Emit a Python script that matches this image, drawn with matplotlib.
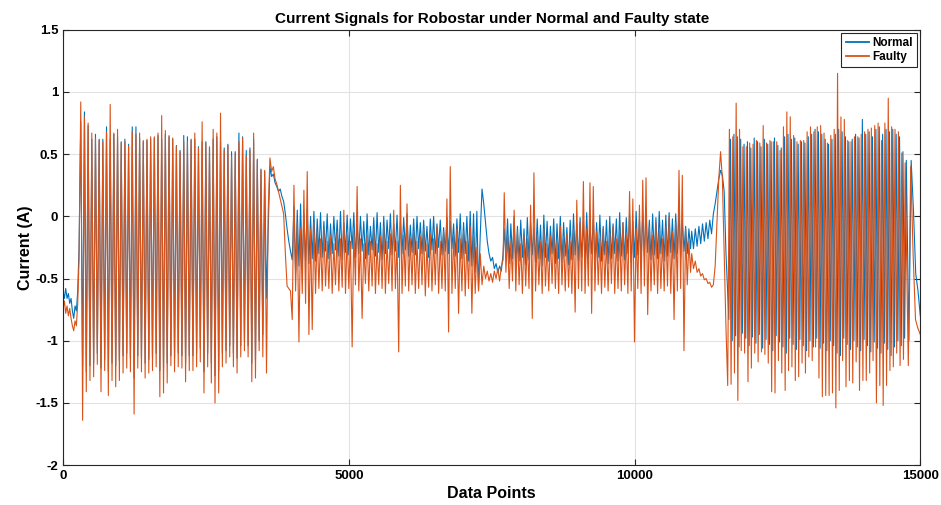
import numpy as np
import matplotlib.pyplot as plt
from matplotlib.ticker import FuncFormatter, MultipleLocator

plt.rcParams['font.family'] = ['Liberation Sans', 'DejaVu Sans']
plt.rcParams['axes.unicode_minus'] = False

# ---- values (data-point ranges and current in A) ----
# segment ranges along the x axis (data points)
PRE = (0, 280)
RUN1 = (310, 3560)
BUMP1 = (3590, 4010)
MID_A = (4040, 7270)
DIP = (7300, 7700)
MID_B = (7720, 10980)
BUMP2 = (11000, 11600)
RUN2_FAULTY = (11630, 14735)
RUN2_NORMAL = (11650, 14755)
END_FAULTY = (14790, 15000)
END_NORMAL = (14800, 15000)

# idle level before the first movement
normal_pre = [-0.60, -0.66, -0.58, -0.66, -0.62, -0.70, -0.66, -0.76, -0.82, -0.72, -0.76, -0.60, -0.25]
faulty_pre = [-0.74, -0.68, -0.78, -0.72, -0.80, -0.74, -0.82, -0.88, -0.92, -0.84, -0.88, -0.70, -0.35]

# first movement: peak / trough of each cycle
faulty_run1_peaks = [0.92, 0.80, 0.75, 0.67, 0.63, 0.61, 0.60, 0.68, 0.90, 0.67, 0.70, 0.59, 0.60, 0.57, 0.68, 0.66, 0.67,
                     0.61, 0.62, 0.64, 0.64, 0.67, 0.81, 0.69, 0.65, 0.63, 0.56, 0.52, 0.60, 0.60, 0.61, 0.67, 0.55, 0.76,
                     0.59, 0.56, 0.70, 0.67, 0.83, 0.53, 0.57, 0.48, 0.51, 0.60, 0.63, 0.49, 0.53, 0.67, 0.45, 0.37, 0.37]
faulty_run1_troughs = [-1.64, -1.41, -1.32, -1.29, -1.19, -1.41, -1.24, -1.44, -1.32, -1.37, -1.32, -1.26, -1.22, -1.25,
                       -1.59, -1.22, -1.25, -1.30, -1.26, -1.24, -1.21, -1.45, -1.42, -1.34, -1.20, -1.25, -1.21, -1.22,
                       -1.33, -1.24, -1.24, -1.21, -1.17, -1.42, -1.21, -1.34, -1.50, -1.42, -1.21, -1.18, -1.13, -1.21,
                       -1.26, -1.13, -1.08, -1.13, -1.33, -1.30, -1.08, -1.13, -1.26]
normal_run1_peaks = [0.76, 0.84, 0.73, 0.62, 0.66, 0.62, 0.62, 0.72, 0.62, 0.66, 0.64, 0.60, 0.62, 0.58, 0.72, 0.72, 0.63,
                     0.60, 0.61, 0.62, 0.63, 0.65, 0.62, 0.66, 0.64, 0.62, 0.57, 0.53, 0.65, 0.64, 0.62, 0.62, 0.56, 0.60,
                     0.60, 0.55, 0.62, 0.64, 0.60, 0.55, 0.58, 0.52, 0.52, 0.67, 0.64, 0.53, 0.55, 0.62, 0.46, 0.38, 0.36]
normal_run1_troughs = [-1.21, -1.25, -1.20, -1.18, -1.10, -1.22, -1.15, -1.25, -1.18, -1.20, -1.16, -1.12, -1.10, -1.14,
                       -1.30, -1.12, -1.14, -1.18, -1.15, -1.13, -1.10, -1.24, -1.22, -1.18, -1.12, -1.13, -1.10, -1.12,
                       -1.18, -1.12, -1.12, -1.10, -1.06, -1.25, -1.10, -1.18, -1.28, -1.24, -1.10, -1.08, -1.04, -1.10,
                       -1.14, -1.04, -1.00, -1.04, -1.18, -1.16, -1.00, -0.95, -0.66]

# overshoot after the first movement
faulty_bump1 = [0.05, 0.47, 0.36, 0.40, 0.30, 0.26, 0.20, 0.14, 0.08, 0.02, -0.30, -0.56, -0.58, -0.60, -0.83]
normal_bump1 = [-0.10, 0.40, 0.32, 0.34, 0.27, 0.24, 0.20, 0.22, 0.16, 0.12, 0.02, -0.10, -0.20, -0.28, -0.35]

# holding phase, first half
faulty_mid_a_peaks = [0.25, -0.05, -0.10, 0.21, 0.36, -0.10, -0.05, -0.12, -0.18, -0.10,
                      -0.20, -0.15, -0.22, -0.12, -0.18, 0.05, -0.15, -0.20, -0.12, 0.24,
                      -0.18, -0.22, -0.15, -0.20, -0.10, -0.22, -0.16, -0.08, -0.20, -0.14,
                      0.05, -0.20, 0.25, -0.15, 0.10, -0.18, -0.12, -0.20, -0.16, -0.10,
                      -0.22, -0.14, -0.18, -0.08, -0.20, -0.12, 0.14, 0.40, -0.15, -0.10,
                      -0.18, -0.12, -0.20, -0.08, -0.15, -0.25]
faulty_mid_a_troughs = [-0.60, -1.01, -0.62, -0.70, -0.95, -0.91, -0.62, -0.58, -0.60, -0.56,
                        -0.58, -0.62, -0.55, -0.60, -0.57, -0.62, -0.58, -1.05, -0.55, -0.60,
                        -0.82, -0.54, -0.60, -0.56, -0.62, -0.55, -0.58, -0.62, -0.54, -0.60,
                        -0.58, -1.09, -0.62, -0.56, -0.60, -0.55, -0.62, -0.58, -0.55, -0.64,
                        -0.57, -0.60, -0.55, -0.62, -0.58, -0.60, -0.93, -0.62, -0.58, -0.78,
                        -0.60, -0.64, -0.58, -0.78, -0.62, -0.60]
normal_mid_a_peaks = [0.08, 0.05, 0.10, 0.02, 0.06, 0.00, 0.04, -0.02, 0.03, -0.04,
                      0.02, -0.06, 0.00, -0.03, 0.04, -0.05, 0.01, -0.02, 0.03, -0.06,
                      0.00, -0.04, 0.02, -0.08, -0.01, 0.03, -0.05, 0.00, -0.03, 0.02,
                      -0.06, 0.01, -0.04, -0.01, 0.02, -0.07, -0.02, 0.00, -0.05, -0.03,
                      -0.08, -0.02, 0.00, -0.06, -0.03, -0.09, -0.01, -0.04, -0.06, -0.02,
                      0.02, -0.05, 0.00, 0.04, 0.02, 0.04]
normal_mid_a_troughs = [-0.45, -0.40, -0.42, -0.36, -0.38, -0.34, -0.36, -0.30, -0.33, -0.28,
                        -0.34, -0.30, -0.27, -0.32, -0.35, -0.29, -0.31, -0.26, -0.33, -0.30,
                        -0.28, -0.34, -0.31, -0.27, -0.32, -0.29, -0.35, -0.30, -0.26, -0.31,
                        -0.28, -0.33, -0.30, -0.27, -0.32, -0.29, -0.31, -0.26, -0.30, -0.28,
                        -0.33, -0.27, -0.30, -0.25, -0.31, -0.28, -0.30, -0.26, -0.32, -0.29,
                        -0.34, -0.30, -0.36, -0.40, -0.45, -0.59]

# short pause in the middle
faulty_dip = [-0.30, -0.55, -0.40, -0.50, -0.44, -0.52, -0.46, -0.53, -0.44, -0.50, -0.42, -0.52, -0.40, -0.35]
normal_dip = [-0.15, 0.22, 0.10, -0.05, -0.20, -0.30, -0.36, -0.33, -0.42, -0.38, -0.45, -0.40, -0.44, -0.30]

# holding phase, second half
faulty_mid_b_peaks = [0.19, -0.15, -0.20, 0.05, -0.12, -0.22, -0.15, -0.18, 0.09, 0.35,
                      -0.15, -0.20, -0.10, -0.22, -0.16, -0.12, -0.20, -0.08, -0.18, -0.14,
                      -0.20, -0.10, 0.13, -0.05, 0.28, -0.10, 0.27, 0.24, -0.12, -0.18,
                      -0.10, -0.20, -0.14, -0.08, -0.18, -0.12, -0.05, -0.15, 0.20, 0.14,
                      -0.10, 0.09, 0.29, 0.31, -0.08, -0.15, -0.05, -0.12, -0.18, -0.08,
                      0.00, -0.12, -0.05, 0.37, 0.33, -0.10, -0.20]
faulty_mid_b_troughs = [-0.45, -0.58, -0.52, -0.60, -0.55, -0.62, -0.56, -0.58, -0.82, -0.60,
                        -0.55, -0.62, -0.56, -0.60, -0.54, -0.58, -0.62, -0.55, -0.60, -0.57,
                        -0.62, -0.77, -0.58, -0.60, -0.62, -0.56, -0.78, -0.60, -0.55, -0.62,
                        -0.57, -0.60, -0.54, -0.62, -0.58, -0.60, -0.55, -0.62, -0.60, -1.01,
                        -0.58, -0.62, -0.56, -0.79, -0.60, -0.55, -0.62, -0.58, -0.60, -0.56,
                        -0.62, -0.83, -0.60, -0.58, -1.08, -0.55, -0.45]
normal_mid_b_peaks = [-0.10, -0.02, -0.06, 0.00, -0.08, -0.03, -0.10, -0.01, -0.05, -0.09,
                      -0.02, -0.07, 0.01, -0.04, -0.08, -0.02, -0.06, 0.00, -0.05, -0.09,
                      -0.03, 0.02, -0.06, -0.01, -0.04, 0.03, -0.07, -0.02, -0.05, 0.01,
                      -0.08, -0.03, 0.00, -0.06, -0.02, 0.03, -0.05, -0.01, 0.02, -0.04,
                      0.04, -0.02, 0.01, 0.05, -0.03, 0.02, -0.01, 0.04, -0.03, 0.01,
                      0.03, -0.02, 0.02, 0.05, -0.04, -0.08, -0.10]
normal_mid_b_troughs = [-0.32, -0.38, -0.34, -0.40, -0.36, -0.33, -0.39, -0.35, -0.31, -0.37,
                        -0.34, -0.40, -0.33, -0.36, -0.30, -0.38, -0.34, -0.37, -0.32, -0.39,
                        -0.35, -0.31, -0.36, -0.33, -0.38, -0.34, -0.30, -0.37, -0.33, -0.36,
                        -0.31, -0.38, -0.34, -0.30, -0.36, -0.32, -0.35, -0.30, -0.37, -0.33,
                        -0.31, -0.36, -0.32, -0.29, -0.35, -0.31, -0.34, -0.30, -0.36, -0.32,
                        -0.29, -0.34, -0.30, -0.33, -0.28, -0.30, -0.26]

# drift and overshoot before the second movement
faulty_bump2 = [-0.30, -0.42, -0.36, -0.45, -0.42, -0.48, -0.46, -0.51, -0.50, -0.54,
                -0.53, -0.57, -0.55, -0.40, -0.05, 0.30, 0.52, 0.30, -0.30, -0.90]
normal_bump2 = [-0.12, -0.26, -0.10, -0.24, -0.08, -0.22, -0.06, -0.20, -0.05, -0.18,
                -0.03, -0.14, 0.02, 0.10, 0.20, 0.30, 0.37, 0.33, 0.20, -0.30]

# second movement: trough / peak of each cycle
faulty_run2_troughs = [-1.36, -1.35, -1.26, -1.48, -1.08, -1.10, -1.33, -1.22, -1.10, -1.17, -1.09, -1.11, -1.18,
                       -1.41, -1.42, -1.16, -1.26, -1.40, -1.24, -1.21, -1.32, -1.29, -1.18, -1.26, -1.13, -1.16,
                       -1.05, -1.30, -1.45, -1.44, -1.44, -1.42, -1.54, -1.40, -1.16, -1.37, -1.32, -1.34, -1.17,
                       -1.40, -1.32, -1.32, -1.26, -1.16, -1.50, -1.36, -1.52, -1.36, -1.24, -1.21, -1.10, -1.20, -1.15]
faulty_run2_peaks = [0.70, 0.64, 0.91, 0.70, 0.56, 0.56, 0.59, 0.58, 0.61, 0.59, 0.73, 0.59, 0.61, 0.60, 0.60, 0.53,
                     0.72, 0.84, 0.80, 0.65, 0.60, 0.61, 0.61, 0.68, 0.72, 0.68,
                     0.72, 0.73, 0.67, 0.59, 0.65, 0.70, 1.15, 0.80, 0.78, 0.61, 0.60, 0.64, 0.64, 0.66, 0.68, 0.70,
                     0.71, 0.73, 0.75, 0.61, 0.75, 0.95, 0.72, 0.70, 0.68, 0.51, 0.43]
normal_run2_troughs = [-0.83, -1.00, -0.96, -1.05, -0.94, -0.98, -1.04, -0.97, -1.02, -0.95, -1.06, -0.99, -1.03,
                       -1.08, -0.96, -1.01, -1.05, -1.10, -0.98, -1.03, -1.07, -0.99, -1.04, -1.08, -1.00, -1.05,
                       -0.98, -1.06, -1.02, -1.08, -1.00, -1.04, -1.10, -1.12, -0.98, -1.03, -1.07, -1.00, -1.05,
                       -1.08, -0.99, -1.04, -1.09, -1.01, -1.06, -1.10, -1.02, -1.07, -1.12, -1.05, -1.00, -1.04, -0.98]
normal_run2_peaks = [0.62, 0.66, 0.64, 0.62, 0.58, 0.60, 0.55, 0.63, 0.60, 0.56, 0.62, 0.58, 0.60, 0.63, 0.57, 0.55,
                     0.64, 0.66, 0.62, 0.63, 0.58, 0.60, 0.59, 0.64, 0.66, 0.70,
                     0.68, 0.66, 0.62, 0.58, 0.62, 0.66, 0.70, 0.68, 0.64, 0.60, 0.62, 0.66, 0.63, 0.78, 0.66, 0.68,
                     0.64, 0.70, 0.72, 0.66, 0.70, 0.68, 0.70, 0.66, 0.64, 0.52, 0.45]

# return to idle
faulty_end = [-1.20, 0.40, -0.30, -0.83, -0.90, -0.95]
normal_end = [-1.00, 0.45, 0.05, -0.46, -0.60, -0.80]


def zigzag(first, second):
    """Interleave two equally long lists: first[0], second[0], first[1], ..."""
    out = np.empty(len(first) + len(second))
    out[0::2] = first
    out[1::2] = second
    return out


def build(segments):
    """Join (x-range, values) pieces into one polyline."""
    xs, ys = [], []
    for (x0, x1), vals in segments:
        vals = np.asarray(vals, dtype=float)
        xs.append(np.linspace(x0, x1, len(vals)))
        ys.append(vals)
    return np.concatenate(xs), np.concatenate(ys)


x_normal, y_normal = build([
    (PRE, normal_pre),
    (RUN1, zigzag(normal_run1_peaks, normal_run1_troughs)),
    (BUMP1, normal_bump1),
    (MID_A, zigzag(normal_mid_a_peaks, normal_mid_a_troughs)),
    (DIP, normal_dip),
    (MID_B, zigzag(normal_mid_b_peaks, normal_mid_b_troughs)),
    (BUMP2, normal_bump2),
    (RUN2_NORMAL, zigzag(normal_run2_troughs, normal_run2_peaks)),
    (END_NORMAL, normal_end),
])
x_faulty, y_faulty = build([
    (PRE, faulty_pre),
    (RUN1, zigzag(faulty_run1_peaks, faulty_run1_troughs)),
    (BUMP1, faulty_bump1),
    (MID_A, zigzag(faulty_mid_a_peaks, faulty_mid_a_troughs)),
    (DIP, faulty_dip),
    (MID_B, zigzag(faulty_mid_b_peaks, faulty_mid_b_troughs)),
    (BUMP2, faulty_bump2),
    (RUN2_FAULTY, zigzag(faulty_run2_troughs, faulty_run2_peaks)),
    (END_FAULTY, faulty_end),
])

fig = plt.figure(figsize=(9.41, 5.05), dpi=100)
ax = fig.add_axes([0.067, 0.079, 0.911, 0.862])

ax.plot(x_normal, y_normal, color='#0072BD', linewidth=0.8, label='Normal')
ax.plot(x_faulty, y_faulty, color='#D95319', linewidth=0.8, label='Faulty')

ax.set_xlim(0, 15000)
ax.set_ylim(-2, 1.5)
ax.xaxis.set_major_locator(MultipleLocator(5000))
ax.yaxis.set_major_locator(MultipleLocator(0.5))
ax.yaxis.set_major_formatter(FuncFormatter(lambda v, _: f'{v:g}'))

ax.grid(True, color='#e2e2e2', linewidth=0.8)
ax.set_axisbelow(True)
ax.tick_params(direction='in', length=4, width=0.8, top=True, right=True,
               labelsize=9.5, colors='#262626', labelcolor='black')
for lbl in ax.get_xticklabels() + ax.get_yticklabels():
    lbl.set_fontweight('bold')
for sp in ax.spines.values():
    sp.set_color('#262626')
    sp.set_linewidth(0.8)

ax.set_title('Current Signals for Robostar under Normal and Faulty state',
             fontsize=11, fontweight='bold', pad=5)
ax.set_xlabel('Data Points', fontsize=11.5, fontweight='bold', labelpad=3)
ax.set_ylabel('Current (A)', fontsize=11.5, fontweight='bold', labelpad=2)

leg = ax.legend(loc='upper right', prop={'weight': 'bold', 'size': 8.5},
                fancybox=False, framealpha=1, edgecolor='#262626', borderaxespad=0.25,
                handlelength=2.0, labelspacing=0.2, borderpad=0.35, handletextpad=0.3)
leg.get_frame().set_linewidth(0.8)
for line in leg.get_lines():
    line.set_linewidth(1.3)

fig.savefig('out.png', dpi=100)
